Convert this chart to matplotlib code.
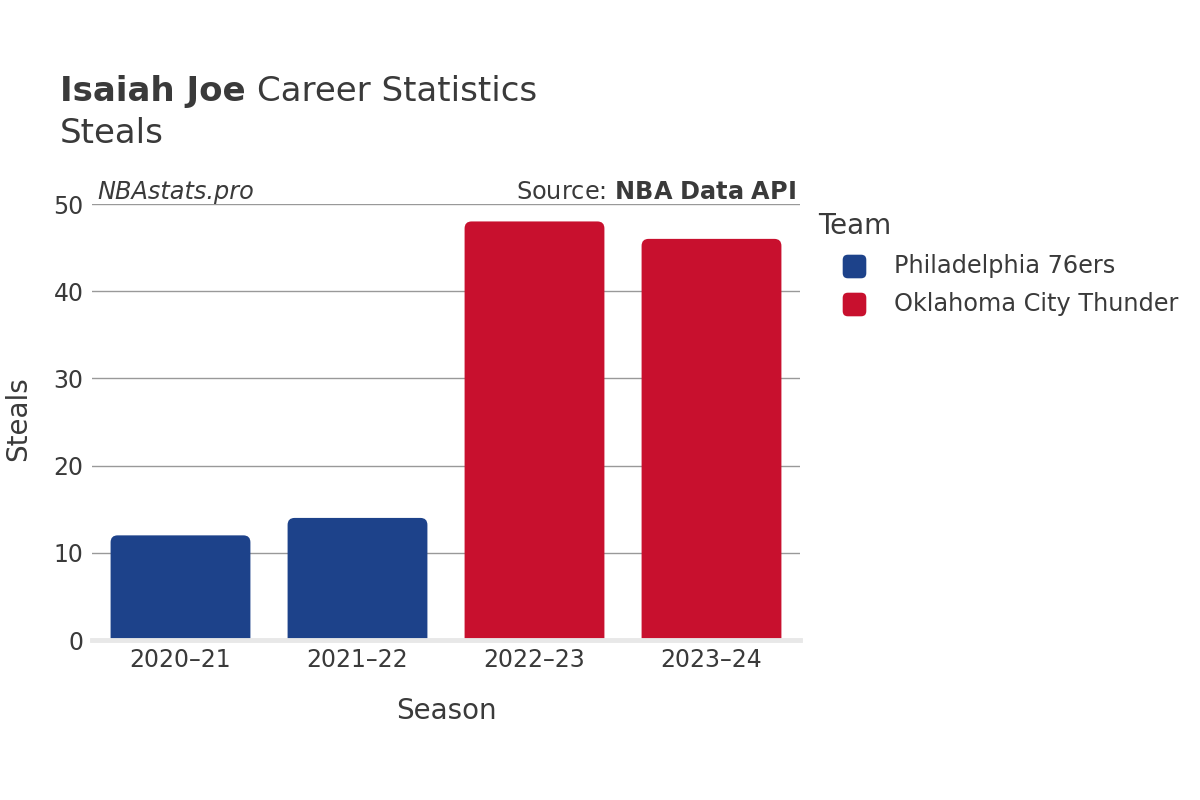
import matplotlib
matplotlib.use("Agg")
import matplotlib.pyplot as plt
from matplotlib.patches import FancyBboxPatch, BoxStyle
from matplotlib.lines import Line2D
from matplotlib.path import Path

seasons = ["2020\u201321", "2021\u201322", "2022\u201323", "2023\u201324"]
steals = [12, 14, 48, 46]
teams = ["Philadelphia 76ers", "Philadelphia 76ers", "Oklahoma City Thunder", "Oklahoma City Thunder"]
team_order = ["Philadelphia 76ers", "Oklahoma City Thunder"]
team_colors = {"Philadelphia 76ers": "#1d428a", "Oklahoma City Thunder": "#c8102e"}
yticks = [0, 10, 20, 30, 40, 50]

W, H = 1200, 800
fig = plt.figure(figsize=(12, 8), dpi=100)
x0, x1, ytop, ybot = 92, 800, 204, 640
ax = fig.add_axes([x0 / W, 1 - ybot / H, (x1 - x0) / W, (ybot - ytop) / H])

ax.set_xlim(-0.5, len(seasons) - 0.5)
ax.set_ylim(0, 50)
text_c = "#3a3a3a"

# rounded bars
bw = 0.79
px_per_x = (x1 - x0) / len(seasons)
px_per_y = (ybot - ytop) / 50
aspect = px_per_x / px_per_y
r = 7 / px_per_x
for i, (s, v, t) in enumerate(zip(seasons, steals, teams)):
    p = FancyBboxPatch((i - bw / 2, -3), bw, v + 3,
                       boxstyle=f"round,pad=0,rounding_size={r}",
                       mutation_aspect=aspect, fc=team_colors[t], ec="none", zorder=3)
    ax.add_patch(p)

for yv in yticks[1:]:
    ax.axhline(yv, color="#999999", lw=1, zorder=1)
ax.axhline(0, color="#e8e8e8", lw=3.5, zorder=4, clip_on=False)

ax.set_xticks(range(len(seasons)))
ax.set_xticklabels(seasons)
ax.set_yticks(yticks)
ax.tick_params(axis="both", length=0, labelsize=17, colors=text_c, pad=6)
for sp in ax.spines.values():
    sp.set_visible(False)
ax.set_xlabel("Season", fontsize=20, color=text_c, labelpad=18)
ax.set_ylabel("Steals", fontsize=20, color=text_c)
ax.yaxis.set_label_coords((32 - x0) / (x1 - x0), (ybot - 419) / (ybot - ytop))

# titles
t1 = fig.text(60 / W, 1 - 101 / H, "Isaiah Joe", fontsize=24.5, color=text_c, ha="left",
              va="baseline", fontweight="bold")
fig.canvas.draw()
bb = t1.get_window_extent()
fig.text((bb.x1 + 11) / W, 1 - 101 / H, "Career Statistics", fontsize=24.5, color=text_c, ha="left", va="baseline")
fig.text(60 / W, 1 - 143 / H, "Steals", fontsize=24.5, color=text_c, ha="left", va="baseline")

fig.text(97 / W, 1 - 199 / H, "NBAstats.pro", fontsize=17.3, style="italic", color=text_c, ha="left", va="baseline")
fig.text(796 / W, 1 - 199 / H, r"Source: $\bf{NBA\ Data\ API}$", fontsize=17.3, color=text_c, ha="right", va="baseline")

# legend with rounded-square markers
fig.text(818 / W, 1 - 226 / H, "Team", fontsize=20, color=text_c, ha="left", va="center")
rs = BoxStyle.Round(pad=0, rounding_size=0.22)(-0.5, -0.5, 1, 1, 1)
marker = Path(rs.vertices, rs.codes)
for k, t in enumerate(team_order):
    yc = 1 - (266 + 38 * k) / H
    fig.add_artist(Line2D([854 / W], [yc], transform=fig.transFigure, ls="none", marker=marker,
                          markersize=17, markerfacecolor=team_colors[t], markeredgecolor="none"))
    fig.text(894 / W, yc, t, fontsize=17.3, color=text_c, ha="left", va="center")

fig.savefig("out.png", dpi=100, facecolor="white")
